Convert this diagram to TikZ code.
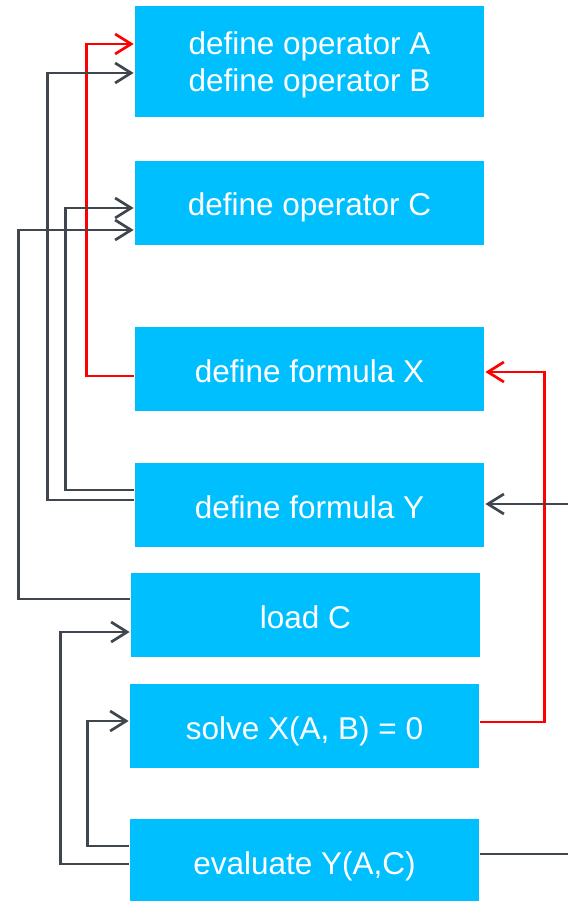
\documentclass[tikz,border=0pt]{standalone}
\usepackage{fontspec}
\setmainfont{Liberation Sans}
\usetikzlibrary{arrows.meta}

\definecolor{boxblue}{RGB}{0,191,255}
\definecolor{linegray}{RGB}{64,70,77}

\begin{document}
\begin{tikzpicture}[
  x = 1pt,
  y = -1pt,
  line width = 2.7pt,
  >={Straight Barb[length=16pt, width=20pt]},
  stage/.style = {fill = boxblue, text = white, minimum width = 349pt,
    minimum height = 84pt, inner sep = 0pt, align = center,
    text height = 26pt, text depth = 0pt,
    font = \fontsize{31.5}{37}\selectfont},
  back/.style = {draw = linegray},
  ]

  \useasboundingbox (0, 0) rectangle (568, 901);

  \node at (309.5, 61.5)
  [stage, minimum height = 111pt, text height = {}, text depth = -3pt, name = OperatorAB] {define operator A\\define operator B};

  \node at (309.5, 203)
  [stage, name = OperatorC] {define operator C};

  \node at (309.5, 369)
  [stage, name = FormulaX] {define formula X};

  \node at (309.5, 505)
  [stage, name = FormulaY] {define formula Y};

  \node at (305.5, 615)
  [stage, name = LoadC] {load C};

  \node at (304.5, 726)
  [stage, name = SolveX] {solve X(A, B) = 0};

  \node at (304.5, 861)
  [stage, name = EvalY] {evaluate Y(A,C)};

  \coordinate (InY) at (568, 504);

  \coordinate (OutY) at (568, 854);

  \draw [->, red] ([yshift = -7pt] FormulaX.west) -- ++(-47, 0) |- ([yshift = 17.5pt] OperatorAB.west);

  \draw [->, back] ([yshift = 5pt] FormulaY.west) -- ++(-86, 0) |- ([yshift = -11.5pt] OperatorAB.west);

  \draw [->, back] ([yshift = 15pt] FormulaY.west) -- ++(-68, 0) |- ([yshift = -5pt] OperatorC.west);

  \draw [->, back] ([yshift = 16pt] LoadC.west) -- ++(-111, 0) |- ([yshift = -27pt] OperatorC.west);

  \draw [->, back] ([yshift = -3pt] EvalY.west) -- ++(-68, 0) |- ([yshift = -17pt] LoadC.west);

  \draw [->, back] ([yshift = 15pt] EvalY.west) -- ++(-41, 0) |- ([yshift = 5pt] SolveX.west);

  \draw [->, red] ([yshift = 4pt] SolveX.east) -- ++(64, 0) |- ([yshift = -3pt] FormulaX.east);

  \draw [->, back] (InY) -- ([yshift = 1pt] FormulaY.east);

  \draw [back] ([yshift = 7pt] EvalY.east) -- (OutY);

\end{tikzpicture}
\end{document}
